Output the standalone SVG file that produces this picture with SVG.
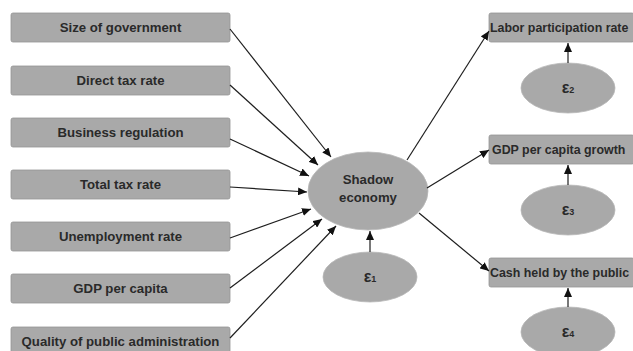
<svg xmlns="http://www.w3.org/2000/svg" width="633" height="351" viewBox="0 0 633 351">
<style>
.box{fill:#a9a9a9;stroke:#949494;stroke-width:0.8}
.ell{fill:#a9a9a9;stroke:#b8b8b8;stroke-width:0.8}
.t{font-family:"Liberation Sans",Arial,sans-serif;font-weight:bold;font-size:13.2px;fill:#2a2a2a}
.r{font-size:12.4px}
.e{font-family:"Liberation Sans",Arial,sans-serif;font-weight:bold;font-size:16px;fill:#2a2a2a}
.e tspan{font-size:9px}
.c line{stroke:#1e1e1e;stroke-width:1.2;marker-end:url(#ah)}
</style>
<defs>
<marker id="ah" markerUnits="userSpaceOnUse" markerWidth="10" markerHeight="8" refX="9" refY="4" orient="auto">
<path d="M0,0 L9,4 L0,8 z" fill="#111"/>
</marker>
</defs>
<rect width="633" height="351" fill="#fff"/>
<g id="n_size"><rect class="box" x="11" y="13" width="219" height="29" rx="2"/><text class="t" x="120.5" y="32" text-anchor="middle">Size of government</text></g>
<g id="n_direct"><rect class="box" x="11" y="66" width="219" height="29" rx="2"/><text class="t" x="120.5" y="85" text-anchor="middle">Direct tax rate</text></g>
<g id="n_business"><rect class="box" x="11" y="118" width="219" height="29" rx="2"/><text class="t" x="120.5" y="137" text-anchor="middle">Business regulation</text></g>
<g id="n_total"><rect class="box" x="11" y="170" width="219" height="29" rx="2"/><text class="t" x="120.5" y="189" text-anchor="middle">Total tax rate</text></g>
<g id="n_unemp"><rect class="box" x="11" y="222" width="219" height="29" rx="2"/><text class="t" x="120.5" y="241" text-anchor="middle">Unemployment rate</text></g>
<g id="n_gdp"><rect class="box" x="11" y="274" width="219" height="29" rx="2"/><text class="t" x="120.5" y="293" text-anchor="middle">GDP per capita</text></g>
<g id="n_quality"><rect class="box" x="11" y="327" width="219" height="29" rx="2"/><text class="t" x="120.5" y="346" text-anchor="middle">Quality of public administration</text></g>
<g id="n_shadow"><ellipse class="ell" cx="368" cy="191" rx="60" ry="39"/><text class="t" x="368" y="184" text-anchor="middle">Shadow</text><text class="t" x="368" y="202" text-anchor="middle">economy</text></g>
<g id="n_e1"><ellipse class="ell" cx="370" cy="277" rx="47" ry="25"/><text class="e" x="370" y="282" text-anchor="middle">ε<tspan>1</tspan></text></g>
<g id="n_labor"><rect class="box" x="489" y="13" width="145" height="29" rx="2"/><text class="t r" x="490" y="32">Labor participation rate</text></g>
<g id="n_e2"><ellipse class="ell" cx="568" cy="88" rx="47" ry="25"/><text class="e" x="568" y="93" text-anchor="middle">ε<tspan>2</tspan></text></g>
<g id="n_gdpg"><rect class="box" x="489" y="135" width="145" height="29" rx="2"/><text class="t r" x="492" y="154">GDP per capita growth</text></g>
<g id="n_e3"><ellipse class="ell" cx="568" cy="210" rx="47" ry="25"/><text class="e" x="568" y="215" text-anchor="middle">ε<tspan>3</tspan></text></g>
<g id="n_cash"><rect class="box" x="489" y="258" width="145" height="29" rx="2"/><text class="t r" x="490" y="277">Cash held by the public</text></g>
<g id="n_e4"><ellipse class="ell" cx="568" cy="332" rx="47" ry="25"/><text class="e" x="568" y="337" text-anchor="middle">ε<tspan>4</tspan></text></g>
<g id="connectors" class="c">
<line x1="230" y1="29" x2="331" y2="157"/>
<line x1="230" y1="85" x2="318" y2="165"/>
<line x1="230" y1="139" x2="309" y2="176"/>
<line x1="230" y1="187" x2="307" y2="192"/>
<line x1="230" y1="238" x2="311" y2="209"/>
<line x1="230" y1="288" x2="322" y2="219"/>
<line x1="230" y1="338" x2="336" y2="226"/>
<line x1="370" y1="252" x2="370" y2="231"/>
<line x1="407" y1="160" x2="489" y2="31"/>
<line x1="427" y1="188" x2="489" y2="150"/>
<line x1="419" y1="213" x2="489" y2="271"/>
<line x1="568" y1="63" x2="568" y2="43"/>
<line x1="568" y1="185" x2="568" y2="165"/>
<line x1="568" y1="307" x2="568" y2="288"/>
</g>
</svg>
